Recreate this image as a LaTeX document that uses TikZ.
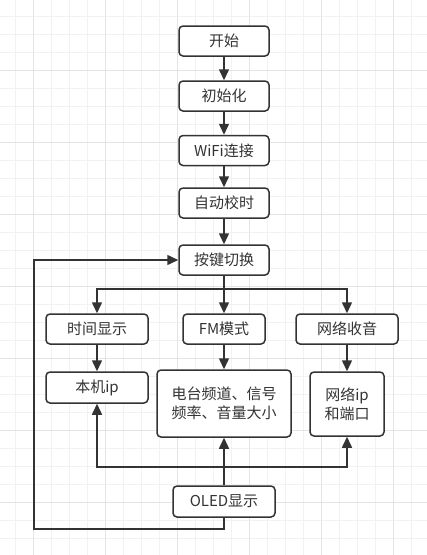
\documentclass[tikz,border=0pt]{standalone}
\usepackage{fontspec}
\setmainfont{Noto Sans CJK SC}
\usetikzlibrary{arrows.meta}
\definecolor{ink}{HTML}{333333}
\definecolor{gminor}{HTML}{F2F2F2}
\definecolor{gmajor}{HTML}{E4E4E4}
\begin{document}
\begin{tikzpicture}[x=1pt,y=-1pt,
  box/.style={draw=ink,fill=white,line width=1.5pt,rounded corners=4pt,
    minimum width=#1,inner sep=0pt,text=ink,font=\fontsize{15}{19}\selectfont,align=center},
  box/.default=90pt,
  conn/.style={draw=ink,line width=1.5pt},
  arr/.style={conn,-{Triangle[length=11pt,width=10pt]}}]
\useasboundingbox (0,0) rectangle (427,555);
\fill[white] (0,0) rectangle (427,555);
% grid
\foreach \i in {-1,...,22} {
  \draw[gminor,line width=1pt] ({33.3+18*\i},0) -- ({33.3+18*\i},555);
}
\foreach \i in {-1,...,30} {
  \draw[gminor,line width=1pt] (0,{16.7+18*\i}) -- (427,{16.7+18*\i});
}
\foreach \i in {0,...,5} {
  \draw[gmajor,line width=1pt] ({33.3+72*\i},0) -- ({33.3+72*\i},555);
}
\foreach \i in {-1,...,7} {
  \draw[gmajor,line width=1pt] (0,{70.7+72*\i}) -- (427,{70.7+72*\i});
}
% nodes
\node[box,minimum height=30pt] (start) at (224,41) {开始};
\node[box,minimum height=30pt] (init) at (224,96) {初始化};
\node[box,minimum height=30pt] (wifi) at (224,150.5) {WiFi连接};
\node[box,minimum height=30pt] (sync) at (224,203) {自动校时};
\node[box,minimum height=30pt] (key) at (224,260) {按键切换};
\node[box=102pt,minimum height=30pt] (time) at (97,329) {时间显示};
\node[box=82pt,minimum height=30pt] (fm) at (224,329) {FM模式};
\node[box=102pt,minimum height=30pt] (net) at (347,329) {网络收音};
\node[box=102pt,minimum height=31pt] (ip) at (97,387.5) {本机ip};
\node[box=134pt,minimum height=67pt] (radio) at (224,403.5) {电台频道、信号\\频率、音量大小};
\node[box=74pt,minimum height=64pt] (netip) at (347,404) {网络ip\\和端口};
\node[box=102pt,minimum height=31pt] (oled) at (224,501.5) {OLED显示};
% connectors
\draw[arr] (start) -- (init);
\draw[arr] (init) -- (wifi);
\draw[arr] (wifi) -- (sync);
\draw[arr] (sync) -- (key);
\coordinate (br) at (224,289);
\draw[conn] (key.south) -- (br);
\draw[arr] (br) -| (time.north);
\draw[arr] (br) -| (net.north);
\draw[arr] (br) -- (fm.north);
\draw[arr] (time) -- (ip);
\draw[arr] (fm) -- (radio);
\draw[arr] (net) -- (netip);
\coordinate (bt) at (224,467);
\draw[arr] (oled.north) -- (radio.south);
\draw[arr] (bt) -| (ip.south);
\draw[arr] (bt) -| (netip.south);
\coordinate (lp) at (34,529);
\draw[arr] (oled.south) |- (lp) |- (key.west);
\end{tikzpicture}
\end{document}
